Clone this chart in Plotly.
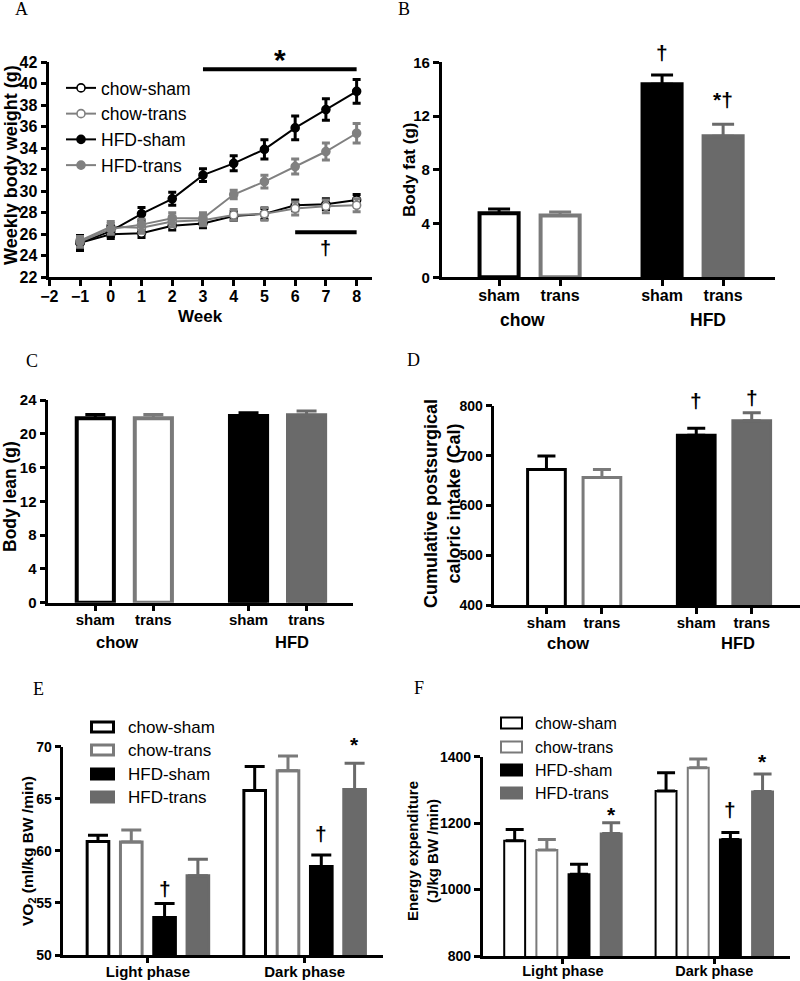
import plotly.graph_objects as go

W, H = 800, 981
SANS = "Liberation Sans, Arial, sans-serif"
SERIF = "Liberation Serif, Times New Roman, serif"

# ---------------- data ----------------
groups = ["chow-sham", "chow-trans", "HFD-sham", "HFD-trans"]
surgery_ticks = ["sham", "trans", "sham", "trans"]
diet_labels = ["chow", "HFD"]
phases = ["Light phase", "Dark phase"]

# Panel A: weekly body weight (g)
weeks = [-1, 0, 1, 2, 3, 4, 5, 6, 7, 8]
wt_chow_sham = [25.2, 26.0, 26.1, 26.8, 27.0, 27.7, 27.9, 28.7, 28.8, 29.2]
wt_chow_sham_err = [0.6, 0.4, 0.4, 0.4, 0.4, 0.4, 0.5, 0.5, 0.5, 0.5]
wt_chow_trans = [25.4, 26.7, 26.6, 27.2, 27.3, 27.8, 27.9, 28.4, 28.6, 28.7]
wt_chow_trans_err = [0.5, 0.5, 0.5, 0.5, 0.5, 0.5, 0.6, 0.6, 0.6, 0.6]
wt_hfd_sham = [25.2, 26.3, 27.9, 29.3, 31.5, 32.6, 33.9, 35.9, 37.6, 39.3]
wt_hfd_sham_err = [0.7, 0.5, 0.6, 0.6, 0.6, 0.7, 0.9, 1.1, 1.0, 1.1]
wt_hfd_trans = [25.3, 26.5, 26.9, 27.5, 27.5, 29.7, 30.9, 32.3, 33.7, 35.4]
wt_hfd_trans_err = [0.5, 0.5, 0.5, 0.5, 0.5, 0.4, 0.6, 0.7, 0.8, 0.9]
star_span = [3, 8]
star_level = 41.35
star_mark_y = 42.83
dagger_span = [6, 8]
dagger_level = 26.2
dagger_mark_y = 24.7

# Panel B: body fat (g)
fat = [4.76, 4.59, 14.36, 10.49]
fat_err = [0.32, 0.27, 0.70, 0.90]
fat_marks = ["", "", "†", "*†"]
fat_marks_y = [None, None, 16.7, 13.2]
# Panel C: body lean (g)
lean = [21.83, 21.83, 22.10, 22.20]
lean_err = [0.45, 0.45, 0.40, 0.50]
# Panel D: cumulative postsurgical caloric intake (Cal)
intake = [672, 656, 741, 770]
intake_err = [27, 16, 14, 16]
intake_marks = ["", "", "†", "†"]
intake_marks_y = [None, None, 810, 817]
# Panel E: VO2 (ml/kg BW/min)
vo2_light = [60.9, 60.85, 53.6, 57.6]
vo2_light_err = [0.6, 1.15, 1.35, 1.6]
vo2_dark = [65.8, 67.7, 58.5, 65.9]
vo2_dark_err = [2.3, 1.4, 1.1, 2.5]
vo2_light_marks = ["", "", "†", ""]
vo2_light_marks_y = [None, None, 56.4, None]
vo2_dark_marks = ["", "", "†", "*"]
vo2_dark_marks_y = [None, None, 61.7, 70.6]
# Panel F: energy expenditure (J/kg BW/min)
ee_light = [1147, 1119, 1046, 1169]
ee_light_err = [34, 32, 30, 32]
ee_dark = [1297, 1367, 1151, 1295]
ee_dark_err = [55, 26, 21, 53]
ee_light_marks = ["", "", "", "*"]
ee_light_marks_y = [None, None, None, 1238]
ee_dark_marks = ["", "", "†", "*"]
ee_dark_marks_y = [None, None, 1242, 1398]

# ---------------- styles ----------------
GRAY = "#6a6a6a"
LGRAY = "#7a7a7a"
fill_col = ["white", "white", "black", GRAY]
edge_col = ["black", LGRAY, "black", GRAY]
line_col = ["black", "#808080", "black", "#808080"]
mfill_col = ["white", "white", "black", "#808080"]


def px(x):
    return x / W


def py(y):
    return 1 - y / H


# plot-area boxes (pixels) and value ranges for each panel
DOM = {
    "A": ((49.3, 372), (277.3, 62.3)),
    "B": ((441.7, 775), (277.3, 62.3)),
    "C": ((48.3, 353), (602.7, 400)),
    "D": ((494.3, 800), (605.3, 405.7)),
    "E": ((63.3, 383), (955, 746.7)),
    "F": ((482.7, 790), (956, 756.7)),
}
YR = {"A": [22, 42], "B": [0, 16], "C": [0, 24], "D": [400, 800],
      "E": [50, 70], "F": [800, 1400]}


def xdom(p):
    return [px(DOM[p][0][0]), min(1.0, px(DOM[p][0][1]))]


def ydom(p):
    return [py(DOM[p][1][0]), py(DOM[p][1][1])]


def ypaper(p, v, dy=0.0):
    """paper y of value v on panel p's y axis, shifted dy pixels downward"""
    d0, d1 = ydom(p)
    r0, r1 = YR[p]
    return d0 + (v - r0) / (r1 - r0) * (d1 - d0) - dy / H


fig = go.Figure()

# ---------------- Panel A ----------------
wt_series = [
    (wt_chow_sham, wt_chow_sham_err),
    (wt_chow_trans, wt_chow_trans_err),
    (wt_hfd_sham, wt_hfd_sham_err),
    (wt_hfd_trans, wt_hfd_trans_err),
]
for i, (vals, errs) in enumerate(wt_series):
    fig.add_trace(go.Scatter(
        x=weeks, y=vals, name=groups[i], mode="lines+markers",
        line=dict(color=line_col[i], width=2),
        marker=dict(symbol="circle", size=8, color=mfill_col[i],
                    line=dict(color=line_col[i], width=1.6)),
        error_y=dict(type="data", array=errs, color=line_col[i],
                     thickness=3, width=4),
        xaxis="x", yaxis="y", legend="legend", showlegend=True,
    ))


# ---------------- Panels B, C, D ----------------
def group_positions(gap):
    return [1, 2, 2 + gap, 3 + gap]


def add_bar_panel(vals, errs, pos, width, lw, cap, xa, ya):
    for i in range(4):
        fig.add_trace(go.Bar(
            x=[pos[i]], y=[vals[i]], name=groups[i], width=width,
            offset=-width / 2,
            marker=dict(color=fill_col[i], line=dict(color=edge_col[i], width=lw)),
            error_y=dict(type="data", array=[errs[i]], arrayminus=[0],
                         symmetric=False, color=edge_col[i], thickness=3,
                         width=cap),
            xaxis=xa, yaxis=ya, showlegend=False,
        ))


pos_B = group_positions(1.67)
pos_C = group_positions(1.64)
pos_D = group_positions(1.70)
add_bar_panel(fat, fat_err, pos_B, 0.64, 4, 11, "x2", "y2")
add_bar_panel(lean, lean_err, pos_C, 0.64, 4, 10, "x3", "y3")
add_bar_panel(intake, intake_err, pos_D, 0.68, 3, 9, "x4", "y4")

BARGAP, GROUPGAP = 0.15, 0.35


# ---------------- Panels E, F ----------------
def add_group_panel(light, light_err, dark, dark_err, lw, cap, xa, ya):
    for i in range(4):
        fig.add_trace(go.Bar(
            x=phases, y=[light[i], dark[i]], name=groups[i],
            marker=dict(color=fill_col[i], line=dict(color=edge_col[i], width=lw)),
            error_y=dict(type="data", array=[light_err[i], dark_err[i]],
                         arrayminus=[0, 0], symmetric=False,
                         color=edge_col[i], thickness=3, width=cap),
            xaxis=xa, yaxis=ya, showlegend=False,
        ))


add_group_panel(vo2_light, vo2_light_err, vo2_dark, vo2_dark_err, 3, 10, "x5", "y5")
add_group_panel(ee_light, ee_light_err, ee_dark, ee_dark_err, 2, 9, "x6", "y6")


# ---------------- axes ----------------
def axis(domain, rng, size, ticklen=6, **kw):
    d = dict(domain=domain, range=rng, showline=True, linecolor="black",
             linewidth=2.5, ticks="outside", ticklen=ticklen, tickwidth=2.5,
             tickcolor="black", showgrid=False, zeroline=False,
             automargin=False,
             tickfont=dict(family=SANS, size=size, color="black", weight="bold"),
             fixedrange=True)
    d.update(kw)
    return d


def ylin(p, dtick):
    return dict(tickmode="linear", tick0=YR[p][0], dtick=dtick)


layout = dict(
    template="none",
    width=W, height=H, margin=dict(l=0, r=0, t=0, b=0, pad=0, autoexpand=False),
    paper_bgcolor="white", plot_bgcolor="white",
    barmode="group", bargap=BARGAP, bargroupgap=GROUPGAP,
    font=dict(family=SANS, color="black"),
    xaxis=axis(xdom("A"), [-2, 8.5], 16, anchor="y", ticklabelstandoff=-3,
               tickmode="linear", tick0=-2, dtick=1),
    yaxis=axis(ydom("A"), YR["A"], 16, anchor="x", **ylin("A", 2)),
    xaxis2=axis(xdom("B"), [0.06, 5.52], 16, anchor="y2", ticklabelstandoff=-4,
                tickvals=pos_B, ticktext=surgery_ticks),
    yaxis2=axis(ydom("B"), YR["B"], 15, anchor="x2", **ylin("B", 4)),
    xaxis3=axis(xdom("C"), [0.19, 5.44], 15, anchor="y3", ticklabelstandoff=-4,
                tickvals=pos_C, ticktext=surgery_ticks),
    yaxis3=axis(ydom("C"), YR["C"], 15, anchor="x3", **ylin("C", 4)),
    xaxis4=axis(xdom("D"), [0.06, 5.57], 15, anchor="y4", ticklabelstandoff=-4,
                tickvals=pos_D, ticktext=surgery_ticks),
    yaxis4=axis(ydom("D"), YR["D"], 14, anchor="x4", **ylin("D", 100)),
    xaxis5=axis(xdom("E"), [-0.54, 1.5], 15, ticklen=5, anchor="y5",
                ticklabelstandoff=-4, type="category"),
    yaxis5=axis(ydom("E"), YR["E"], 14, anchor="x5", **ylin("E", 5)),
    xaxis6=axis(xdom("F"), [-0.53, 1.5], 14.5, ticklen=5, anchor="y6",
                ticklabelstandoff=-5, type="category"),
    yaxis6=axis(ydom("F"), YR["F"], 14, anchor="x6", **ylin("F", 200)),
    legend=dict(x=px(61), y=py(70), xanchor="left", yanchor="top",
                bgcolor="rgba(0,0,0,0)", borderwidth=0, itemwidth=30,
                font=dict(family=SANS, size=17.5, color="black"),
                tracegroupgap=0),
    showlegend=True,
)
fig.update_layout(**layout)

ann = []
shapes = []


def text(x, y, s, size, bold=True, xref="paper", yref="paper", angle=0,
         family=SANS, xanchor="center", color="black"):
    ann.append(dict(x=x, y=y, xref=xref, yref=yref, text=s, showarrow=False,
                    textangle=angle, xanchor=xanchor, yanchor="middle",
                    font=dict(family=family, size=size, color=color,
                              weight="bold" if bold else "normal")))


# panel letters
for letter, (lx, ly) in zip("ABCDEF", [(21, 9), (404, 9), (32, 361),
                                       (413, 360), (38, 689), (419, 688)]):
    text(px(lx), py(ly), letter, 18, bold=False, family=SERIF)

# axis titles
text(px(11), py(165), "Weekly body weight (g)", 18, angle=-90)
text(px(201), py(317), "Week", 17)
text(px(409), py(170), "Body fat (g)", 17, angle=-90)
text(px(10), py(497), "Body lean (g)", 17.5, angle=-90)
text(px(442), py(504), "Cumulative postsurgical<br>caloric intake (Cal)", 18, angle=-90)
text(px(28), py(851), "VO<sub>2</sub> (ml/kg BW /min)", 15.5, angle=-90)
text(px(422), py(851), "Energy expenditure<br>(J/kg BW /min)", 15, angle=-90)

# group labels under bar panels
for xa, pos, yl, size in [("x2", pos_B, 320, 17.5), ("x3", pos_C, 642, 16.5),
                          ("x4", pos_D, 643, 16.5)]:
    text((pos[0] + pos[1]) / 2 - 0.12, py(yl), diet_labels[0], size, xref=xa)
    text((pos[2] + pos[3]) / 2 + 0.25, py(yl), diet_labels[1], size, xref=xa)

# significance bars, panel A
shapes.append(dict(type="line", xref="x", yref="y", x0=star_span[0], x1=star_span[1],
                   y0=star_level, y1=star_level, line=dict(color="black", width=4)))
shapes.append(dict(type="line", xref="x", yref="y", x0=dagger_span[0], x1=dagger_span[1],
                   y0=dagger_level, y1=dagger_level, line=dict(color="black", width=4)))


def glyph_dy(mark, size):
    # an asterisk sits high in its line box; push the box down so the glyph lands on target
    return 0.2 * size if mark == "*" else 0.0


text((star_span[0] + star_span[1]) / 2, ypaper("A", star_mark_y, glyph_dy("*", 30)),
     "*", 30, xref="x")
text((dagger_span[0] + dagger_span[1]) / 2, ypaper("A", dagger_mark_y), "†", 20, xref="x")


def marks_at(p, marks, ys, xs, xa, size=21):
    for m, yv, xv in zip(marks, ys, xs):
        if m:
            text(xv, ypaper(p, yv, glyph_dy(m, size)), m, size, xref=xa)


marks_at("B", fat_marks, fat_marks_y, pos_B, "x2")
marks_at("D", intake_marks, intake_marks_y, pos_D, "x4")

slot = (1 - BARGAP) / 4
offs = [(-1.5 + i) * slot for i in range(4)]
for cat, (marks, ys) in enumerate([(vo2_light_marks, vo2_light_marks_y),
                                   (vo2_dark_marks, vo2_dark_marks_y)]):
    marks_at("E", marks, ys, [cat + o for o in offs], "x5")
for cat, (marks, ys) in enumerate([(ee_light_marks, ee_light_marks_y),
                                   (ee_dark_marks, ee_dark_marks_y)]):
    marks_at("F", marks, ys, [cat + o for o in offs], "x6")


# manual legends for E and F (bar swatches)
def swatch_legend(x0, x1, rows, h, lw, tx, size):
    for i, yc in enumerate(rows):
        shapes.append(dict(type="rect", xref="paper", yref="paper",
                           x0=px(x0 + lw / 2), x1=px(x1 - lw / 2),
                           y0=py(yc + h / 2 - lw / 2), y1=py(yc - h / 2 + lw / 2),
                           fillcolor=fill_col[i],
                           line=dict(color=edge_col[i], width=lw)))
        text(px(tx), py(yc), groups[i], size, bold=False, xanchor="left")


swatch_legend(90, 115, [727, 750, 774, 797], 13, 3, 126, 17)
swatch_legend(500, 523, [723, 747, 770, 793], 13, 2, 533, 16)

fig.update_layout(annotations=ann, shapes=shapes)
fig.write_html("out.html", config={"responsive": False, "displayModeBar": False},
               post_script="document.body.style.margin='0px';")
